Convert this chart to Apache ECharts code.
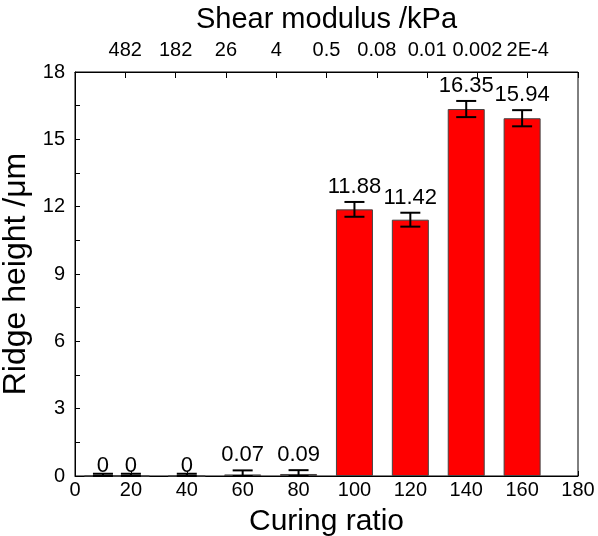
<!DOCTYPE html>
<html>
<head>
<meta charset="utf-8">
<script src="https://cdn.jsdelivr.net/npm/echarts@6/dist/echarts.min.js"></script>
<style>html,body{margin:0;padding:0;background:#fff;}#c{width:598px;height:536px;}</style>
</head>
<body>
<div id="c"></div>
<script>
var curingRatio = [10, 20, 40, 60, 80, 100, 120, 140, 160];
var ridgeHeight = [0, 0, 0, 0.07, 0.09, 11.88, 11.42, 16.35, 15.94];
var ridgeError = [0.1, 0.1, 0.1, 0.18, 0.17, 0.33, 0.31, 0.36, 0.36];
var valueLabels = ['0', '0', '0', '0.07', '0.09', '11.88', '11.42', '16.35', '15.94'];
var shearModulusTicks = ['', '482', '182', '26', '4', '0.5', '0.08', '0.01', '0.002', '2E-4', ''];

var FONT = 'Liberation Sans, Arial, sans-serif';
var chart = echarts.init(document.getElementById('c'), null, {renderer: 'canvas'});

var barData = curingRatio.map(function (x, i) { return [x, ridgeHeight[i]]; });
var errData = curingRatio.map(function (x, i) { return [x, ridgeHeight[i], ridgeError[i], i]; });

chart.setOption({
  animation: false,
  backgroundColor: '#fff',
  grid: {left: 75, right: 20, top: 72, bottom: 60, show: true, borderColor: '#000', borderWidth: 1,
    containLabel: false, outerBoundsMode: 'none'},
  xAxis: [{
    type: 'value', position: 'bottom', min: 0, max: 180, interval: 20,
    name: 'Curing ratio', nameLocation: 'middle', nameGap: 31,
    nameTextStyle: {fontFamily: FONT, fontSize: 30, color: '#000'},
    axisLine: {show: true, lineStyle: {color: '#000', width: 1}},
    axisTick: {show: true, inside: true, length: 5, lineStyle: {color: '#000'}},
    axisLabel: {fontFamily: FONT, fontSize: 20, color: '#000', margin: 4},
    splitLine: {show: false}
  }, {
    type: 'value', position: 'top', min: 0, max: 180, interval: 18,
    name: 'Shear modulus /kPa', nameLocation: 'middle', nameGap: 38,
    nameTextStyle: {fontFamily: FONT, fontSize: 29, color: '#000'},
    axisLine: {show: true, lineStyle: {color: '#000', width: 1}},
    axisTick: {show: true, inside: true, length: 6, lineStyle: {color: '#000'}},
    axisLabel: {fontFamily: FONT, fontSize: 20, color: '#000', margin: 12,
      formatter: function (v) { return shearModulusTicks[Math.round(v / 18)] || ''; }},
    splitLine: {show: false}
  }],
  yAxis: [{
    type: 'value', min: 0, max: 18, interval: 3,
    name: 'Ridge height /\u03bcm', nameLocation: 'middle', nameGap: 35,
    nameTextStyle: {fontFamily: FONT, fontSize: 32, color: '#000'},
    axisLine: {show: true, lineStyle: {color: '#000', width: 1}},
    axisTick: {show: true, inside: true, length: 5, lineStyle: {color: '#000'}},
    minorTick: {show: true, splitNumber: 2, length: 5, lineStyle: {color: '#000'}},
    axisLabel: {fontFamily: FONT, fontSize: 20, color: '#000', margin: 10},
    splitLine: {show: false}, minorSplitLine: {show: false}
  }],
  series: [{
    type: 'bar', xAxisIndex: 0, yAxisIndex: 0,
    data: barData, barWidth: 37,
    itemStyle: {color: '#ff0000', borderColor: '#444', borderWidth: 1}
  }, {
    type: 'custom', xAxisIndex: 0, yAxisIndex: 0,
    data: errData, z: 10,
    renderItem: function (params, api) {
      var x = api.value(0), y = api.value(1), e = api.value(2), idx = api.value(3);
      var top = api.coord([x, y + e]);
      var bot = api.coord([x, Math.max(0, y - e)]);
      var hw = 10;
      var ls = {stroke: '#000', lineWidth: 2};
      return {type: 'group', children: [
        {type: 'line', shape: {x1: top[0], y1: top[1], x2: bot[0], y2: bot[1]}, style: ls},
        {type: 'line', shape: {x1: top[0] - hw, y1: top[1], x2: top[0] + hw, y2: top[1]}, style: ls},
        {type: 'line', shape: {x1: bot[0] - hw, y1: bot[1], x2: bot[0] + hw, y2: bot[1]}, style: ls},
        {type: 'text', x: top[0], y: top[1] - (y > 0.05 ? 4 : -3),
          style: {text: valueLabels[idx], fill: '#000', font: '22px ' + FONT, align: 'center', verticalAlign: 'bottom'}}
      ]};
    }
  }]
});
</script>
</body>
</html>
